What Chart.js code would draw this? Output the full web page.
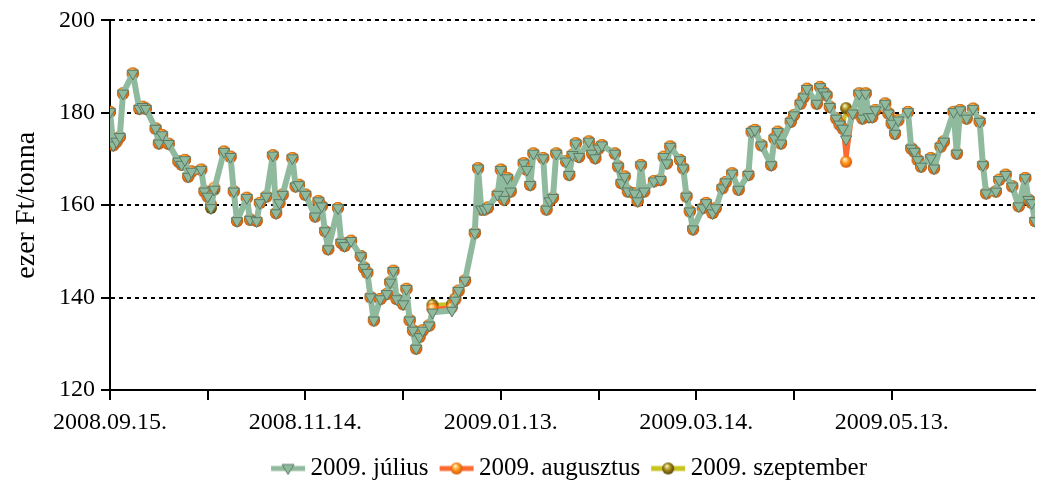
<!DOCTYPE html>
<html>
<head>
<meta charset="utf-8">
<script src="https://cdn.jsdelivr.net/npm/chart.js@4.4.1/dist/chart.umd.min.js"></script>
<style>
  html, body { margin: 0; padding: 0; background: #fff; }
</style>
</head>
<body>
<canvas id="chart" width="1045" height="485"></canvas>
<script>
// napok 2008.09.15-tol szamolva
const days = [
  0, 1, 2, 3, 4, 7, 9, 10, 11, 14, 15, 16, 18, 21, 22, 23, 24, 25, 28, 29,
  30, 31, 32, 35, 37, 38, 39, 42, 43, 45, 46, 48, 50, 51, 52, 53, 56, 57, 58, 60,
  63, 64, 65, 66, 67, 70, 71, 72, 74, 77, 78, 79, 80, 81, 83, 85, 86, 87, 88, 90,
  91, 92, 93, 94, 95, 96, 98, 99, 105, 106, 107, 109, 112, 113, 114, 115, 116, 119, 120, 121,
  122, 123, 127, 128, 129, 130, 133, 134, 135, 136, 137, 140, 141, 142, 143, 144, 147, 148, 149, 150,
  151, 155, 156, 157, 158, 159, 161, 162, 163, 164, 167, 169, 170, 171, 172, 175, 176, 177, 178, 179,
  182, 183, 185, 186, 188, 189, 191, 193, 196, 197, 198, 200, 203, 204, 205, 206, 209, 210, 212, 213,
  214, 217, 218, 219, 220, 221, 223, 224, 225, 226, 228, 230, 231, 232, 233, 234, 235, 238, 239, 240,
  241, 242, 245, 246, 247, 248, 249, 252, 253, 255, 256, 259, 260, 261, 263, 265, 267, 268, 269, 272,
  273, 275, 277, 279, 281, 282, 283, 284
];

const julius = [
  180.2, 173.0, 173.8, 174.8, 184.2, 188.5, 180.9, 181.3, 180.9, 176.6, 173.4, 175.2, 173.3, 169.5, 168.8, 169.8, 166.2, 167.3, 167.7, 163.0,
  161.9, 159.4, 163.4, 171.6, 170.5, 163.0, 156.6, 161.6, 156.9, 156.6, 160.5, 161.9, 170.8, 158.3, 160.5, 162.3, 170.2, 164.1, 164.4, 162.3,
  157.6, 160.9, 159.8, 154.4, 150.5, 159.4, 151.9, 151.2, 152.3, 149.0, 146.5, 145.4, 140.1, 135.1, 139.7, 140.8, 143.3, 145.8, 139.7, 138.6,
  141.9, 135.1, 132.9, 129.0, 131.5, 132.9, 134.0, 136.8, 137.2, 139.4, 141.5, 143.7, 154.0, 168.0, 159.1, 159.1, 159.5, 162.3, 167.7, 161.2,
  165.9, 163.0, 169.1, 167.7, 164.4, 171.2, 170.2, 159.1, 160.9, 161.6, 171.2, 169.5, 166.6, 170.9, 173.4, 170.5, 173.8, 171.2, 170.2, 172.3,
  173.0, 171.2, 168.4, 164.8, 166.2, 163.0, 162.6, 160.9, 168.7, 163.0, 165.2, 165.5, 170.5, 169.1, 172.7, 169.8, 168.0, 161.9, 158.7, 154.8,
  159.4, 160.5, 158.3, 159.4, 163.7, 165.0, 166.9, 163.4, 166.6, 175.9, 176.3, 173.0, 168.7, 174.5, 175.9, 173.4, 178.1, 179.5, 182.0, 183.4,
  185.2, 182.0, 185.6, 184.5, 183.8, 181.3, 178.8, 177.5, 176.6, 174.3, 179.9, 184.2, 178.8, 184.2, 179.1, 179.1, 180.6, 182.0, 179.9, 177.7,
  175.5, 178.4, 180.2, 172.3, 171.6, 169.8, 168.4, 170.2, 168.0, 172.7, 173.8, 180.2, 171.2, 180.6, 178.8, 180.9, 178.1, 168.7, 162.6, 163.0,
  165.5, 166.6, 164.1, 159.8, 165.9, 161.2, 160.5, 156.6
];

const augusztus = [
  180.2, 173.0, 173.8, 174.8, 184.2, 188.5, 180.9, 181.3, 180.9, 176.6, 173.4, 175.2, 173.3, 169.5, 168.8, 169.8, 166.2, 167.3, 167.7, 163.0,
  161.9, 160.2, 163.8, 171.6, 170.5, 163.0, 156.6, 161.6, 156.9, 156.6, 160.5, 161.9, 170.8, 158.3, 160.5, 162.3, 170.2, 164.1, 164.4, 162.3,
  157.6, 160.9, 159.8, 154.4, 150.5, 159.4, 151.9, 151.2, 152.3, 149.0, 146.5, 145.4, 140.1, 135.1, 139.7, 140.8, 143.3, 145.8, 139.7, 138.6,
  141.9, 135.1, 132.9, 129.0, 131.5, 132.9, 134.0, 137.6, 137.9, 139.6, 141.5, 143.7, 154.0, 168.0, 159.1, 159.1, 159.5, 162.3, 167.7, 161.2,
  165.9, 163.0, 169.1, 167.7, 164.4, 171.2, 170.2, 159.1, 160.9, 161.6, 171.2, 169.5, 166.6, 170.9, 173.4, 170.5, 173.8, 171.2, 170.2, 172.3,
  173.0, 171.2, 168.4, 164.8, 166.2, 163.0, 162.6, 160.9, 168.7, 163.0, 165.2, 165.5, 170.5, 169.1, 172.7, 169.8, 168.0, 161.9, 158.7, 154.8,
  159.4, 160.5, 158.3, 159.4, 163.7, 165.0, 166.9, 163.4, 166.6, 175.9, 176.3, 173.0, 168.7, 174.5, 175.9, 173.4, 178.1, 179.5, 182.0, 183.4,
  185.2, 182.0, 185.6, 184.5, 183.8, 181.3, 178.8, 177.5, 176.6, 169.4, 179.9, 184.2, 178.8, 184.2, 179.1, 179.1, 180.6, 182.0, 179.9, 177.7,
  175.5, 178.4, 180.2, 172.3, 171.6, 169.8, 168.4, 170.2, 168.0, 172.7, 173.8, 180.2, 171.2, 180.6, 178.8, 180.9, 178.1, 168.7, 162.6, 163.0,
  165.5, 166.6, 164.1, 159.8, 165.9, 161.2, 160.5, 156.6
];

const szeptember = [
  180.2, 173.0, 173.8, 174.8, 184.2, 188.5, 180.9, 181.3, 180.9, 176.6, 173.4, 175.2, 173.3, 169.5, 168.8, 169.8, 166.2, 167.3, 167.7, 163.0,
  161.9, 159.4, 163.4, 171.6, 170.5, 163.0, 156.6, 161.6, 156.9, 156.6, 160.5, 161.9, 170.8, 158.3, 160.5, 162.3, 170.2, 164.1, 164.4, 162.3,
  157.6, 160.9, 159.8, 154.4, 150.5, 159.4, 151.9, 151.2, 152.3, 149.0, 146.5, 145.4, 140.1, 135.1, 139.7, 140.8, 143.3, 145.8, 139.7, 138.6,
  141.9, 135.1, 132.9, 129.0, 131.5, 132.9, 134.0, 138.4, 138.6, 139.8, 141.5, 143.7, 154.0, 168.0, 159.1, 159.1, 159.5, 162.3, 167.7, 161.2,
  165.9, 163.0, 169.1, 167.7, 164.4, 171.2, 170.2, 159.1, 160.9, 161.6, 171.2, 169.5, 166.6, 170.9, 173.4, 170.5, 173.8, 171.2, 170.2, 172.3,
  173.0, 171.2, 168.4, 164.8, 166.2, 163.0, 162.6, 160.9, 168.7, 163.0, 165.2, 165.5, 170.5, 169.1, 172.7, 169.8, 168.0, 161.9, 158.7, 154.8,
  159.4, 160.5, 158.3, 159.4, 163.7, 165.0, 166.9, 163.4, 166.6, 175.9, 176.3, 173.0, 168.7, 174.5, 175.9, 173.4, 178.1, 179.5, 182.0, 183.4,
  185.2, 182.0, 185.6, 184.5, 183.8, 181.3, 178.8, 177.5, 176.6, 181.0, 179.9, 184.2, 178.8, 184.2, 179.1, 179.1, 180.6, 182.0, 179.9, 177.7,
  175.5, 178.4, 180.2, 172.3, 171.6, 169.8, 168.4, 170.2, 168.0, 172.7, 173.8, 180.2, 171.2, 180.6, 178.8, 180.9, 178.1, 168.7, 162.6, 163.0,
  165.5, 166.6, 164.1, 159.8, 165.9, 161.2, 160.5, 156.6
];

const tickLabels = ['2008.09.15.', '2008.11.14.', '2009.01.13.', '2009.03.14.', '2009.05.13.'];
const seriesNames = ['2009. július', '2009. augusztus', '2009. szeptember'];

const FONT = 'Liberation Serif, Times New Roman, serif';
const GREEN = 'rgb(143,186,158)';
const GREEN_EDGE = 'rgb(92,122,102)';
const ORANGE = 'rgb(255,106,48)';
const YELLOW = 'rgb(200,196,30)';

// gombolyu markerek (gradiens)
function ball(r, c1, c2, c3) {
  const cv = document.createElement('canvas');
  cv.width = cv.height = r * 2 + 2;
  const g = cv.getContext('2d');
  const grad = g.createRadialGradient(r * 0.75 + 1, r * 0.55 + 1, 0.5, r + 1, r + 1, r + 0.5);
  grad.addColorStop(0, c1);
  grad.addColorStop(0.45, c2);
  grad.addColorStop(1, c3);
  g.fillStyle = grad;
  g.beginPath();
  g.arc(r + 1, r + 1, r, 0, Math.PI * 2);
  g.fill();
  return cv;
}
const orangeBall = ball(6, '#fff4c8', '#ff9a22', '#d24a00');
const oliveBall = ball(6, '#fbf2b8', '#a88c1c', '#4a3a00');

function legendIcon(color, width, marker) {
  const cv = document.createElement('canvas');
  cv.width = 36; cv.height = 16;
  const g = cv.getContext('2d');
  g.strokeStyle = color;
  g.lineWidth = width;
  g.beginPath(); g.moveTo(1, 8); g.lineTo(35, 8); g.stroke();
  if (marker === 'tri') {
    g.fillStyle = GREEN;
    g.strokeStyle = GREEN_EDGE;
    g.lineWidth = 1;
    g.beginPath(); g.moveTo(12, 4); g.lineTo(24, 4); g.lineTo(18, 14); g.closePath();
    g.fill(); g.stroke();
  } else {
    g.drawImage(marker, 18 - marker.width / 2, 8 - marker.height / 2);
  }
  return cv;
}
const icons = [
  legendIcon(GREEN, 5, 'tri'),
  legendIcon(ORANGE, 5, orangeBall),
  legendIcon(YELLOW, 5, oliveBall)
];

// jelmagyarazat a rajzterulet ala kozepre, kicsit lejjebb
const legendShift = {
  id: 'legendShift',
  afterUpdate(chart) {
    const lg = chart.legend, ca = chart.chartArea;
    lg.left = ca.left; lg.right = ca.right; lg.width = ca.right - ca.left;
    lg.top += 6; lg.bottom += 6;
  }
};

const pts = vals => days.map((d, i) => ({ x: d, y: vals[i] }));

new Chart(document.getElementById('chart'), {
  type: 'line',
  data: {
    datasets: [{
      label: seriesNames[0],
      data: pts(julius),
      borderColor: GREEN,
      borderWidth: 6,
      borderJoinStyle: 'round',
      pointStyle: 'triangle',
      rotation: 180,
      pointRadius: 6.5,
      pointBackgroundColor: GREEN,
      pointBorderColor: GREEN_EDGE,
      pointBorderWidth: 1
    }, {
      label: seriesNames[1],
      data: pts(augusztus),
      borderColor: ORANGE,
      borderWidth: 4,
      borderJoinStyle: 'round',
      pointStyle: orangeBall,
      pointRadius: 6
    }, {
      label: seriesNames[2],
      data: pts(szeptember),
      borderColor: YELLOW,
      borderWidth: 4,
      borderJoinStyle: 'round',
      pointStyle: oliveBall,
      pointRadius: 6
    }]
  },
  plugins: [legendShift],
  options: {
    responsive: false,
    animation: false,
    layout: { padding: { top: 17, right: 1, bottom: 0, left: 0 } },
    plugins: {
      tooltip: { enabled: false },
      legend: {
        position: 'bottom',
        labels: {
          usePointStyle: true,
          pointStyleWidth: 20,
          padding: 18,
          color: '#000',
          font: { family: FONT, size: 25 },
          generateLabels: chart => chart.data.datasets.map((d, i) => ({
            text: d.label,
            pointStyle: icons[i],
            datasetIndex: i,
            hidden: false,
            lineWidth: 0,
            fillStyle: 'transparent',
            strokeStyle: 'transparent',
            fontColor: '#000'
          }))
        }
      }
    },
    scales: {
      x: {
        type: 'linear',
        min: 0,
        max: 284,
        afterBuildTicks: s => { s.ticks = s.ticks.filter(t => t.value % 30 === 0); },
        afterFit: s => { s.height = 42; },
        ticks: {
          stepSize: 30,
          autoSkip: false,
          maxRotation: 0,
          padding: 8,
          color: '#000',
          font: { family: FONT, size: 24 },
          callback: v => (v % 60 === 0 ? tickLabels[v / 60] : '')
        },
        grid: {
          drawOnChartArea: false,
          drawTicks: true,
          tickLength: 10,
          tickColor: '#000',
          tickWidth: 2,
          color: '#000',
          lineWidth: 2
        },
        border: { display: true, color: '#000', width: 2 }
      },
      y: {
        min: 120,
        max: 200,
        afterFit: s => { s.width = 110; },
        ticks: {
          stepSize: 20,
          padding: 6,
          color: '#000',
          font: { family: FONT, size: 24 }
        },
        title: {
          display: true,
          text: 'ezer Ft/tonna',
          color: '#000',
          font: { family: FONT, size: 28 },
          padding: { top: 10 }
        },
        grid: {
          color: c => (c.tick && c.tick.value === 120 ? 'rgba(0,0,0,0)' : '#000'),
          lineWidth: 2,
          tickLength: 9,
          tickColor: '#000',
          tickWidth: 2,
          tickBorderDash: []
        },
        border: { display: true, color: '#000', width: 2, dash: [4, 4] }
      }
    }
  }
});
</script>
</body>
</html>
